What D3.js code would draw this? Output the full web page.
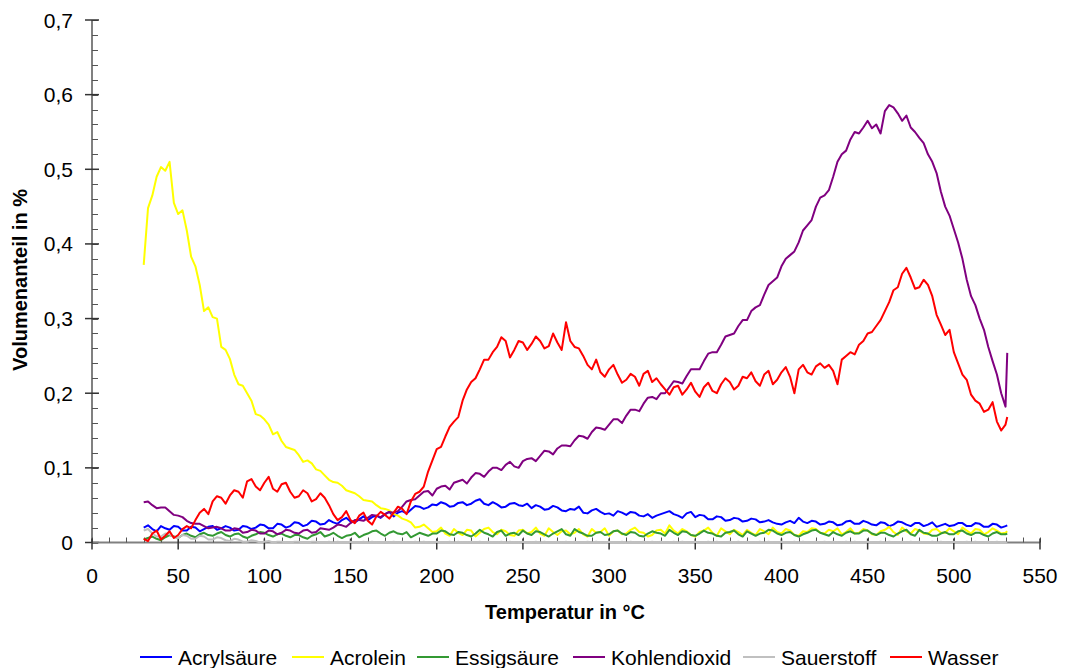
<!DOCTYPE html>
<html lang="de">
<head>
<meta charset="utf-8">
<title>Volumenanteil über Temperatur</title>
<script src="https://d3js.org/d3.v7.min.js"></script>
<style>
	body {
		margin: 0;
		background: #fff;
		font-family: 'Liberation Sans', Arial, sans-serif;
	}
	.ticklabel {
		font-size: 21px;
		fill: #000;
	}
	.axistitle {
		font-size: 20px;
		font-weight: bold;
		fill: #000;
	}
	.legendtext {
		font-size: 21px;
		fill: #000;
	}
</style>
</head>
<body>
<div id="chart"></div>
<script>

// Temperatur in °C (sampling grid of the curves)
var temps = [
  30, 32.5, 35, 37.5, 40, 42.5, 45, 47.5, 50, 52.5, 55, 57.5, 60, 62.5, 65, 67.5, 70, 72.5, 75, 77.5,
  80, 82.5, 85, 87.5, 90, 92.5, 95, 97.5, 100, 102.5, 105, 107.5, 110, 112.5, 115, 117.5, 120, 122.5, 125, 127.5,
  130, 132.5, 135, 137.5, 140, 142.5, 145, 147.5, 150, 152.5, 155, 157.5, 160, 162.5, 165, 167.5, 170, 172.5, 175, 177.5,
  180, 182.5, 185, 187.5, 190, 192.5, 195, 197.5, 200, 202.5, 205, 207.5, 210, 212.5, 215, 217.5, 220, 222.5, 225, 227.5,
  230, 232.5, 235, 237.5, 240, 242.5, 245, 247.5, 250, 252.5, 255, 257.5, 260, 262.5, 265, 267.5, 270, 272.5, 275, 277.5,
  280, 282.5, 285, 287.5, 290, 292.5, 295, 297.5, 300, 302.5, 305, 307.5, 310, 312.5, 315, 317.5, 320, 322.5, 325, 327.5,
  330, 332.5, 335, 337.5, 340, 342.5, 345, 347.5, 350, 352.5, 355, 357.5, 360, 362.5, 365, 367.5, 370, 372.5, 375, 377.5,
  380, 382.5, 385, 387.5, 390, 392.5, 395, 397.5, 400, 402.5, 405, 407.5, 410, 412.5, 415, 417.5, 420, 422.5, 425, 427.5,
  430, 432.5, 435, 437.5, 440, 442.5, 445, 447.5, 450, 452.5, 455, 457.5, 460, 462.5, 465, 467.5, 470, 472.5, 475, 477.5,
  480, 482.5, 485, 487.5, 490, 492.5, 495, 497.5, 500, 502.5, 505, 507.5, 510, 512.5, 515, 517.5, 520, 522.5, 525, 527.5,
  530, 531
];

var acrylsaeure = [
  0.02, 0.023, 0.018, 0.015, 0.022, 0.019, 0.017, 0.022, 0.021, 0.016, 0.016, 0.021, 0.02, 0.015, 0.018, 0.021, 0.022, 0.017, 0.019, 0.022,
  0.02, 0.016, 0.017, 0.022, 0.021, 0.018, 0.02, 0.024, 0.023, 0.019, 0.019, 0.025, 0.024, 0.02, 0.022, 0.027, 0.026, 0.022, 0.024, 0.029,
  0.028, 0.024, 0.025, 0.03, 0.027, 0.025, 0.03, 0.033, 0.028, 0.027, 0.031, 0.035, 0.03, 0.034, 0.036, 0.033, 0.038, 0.041, 0.035, 0.04,
  0.042, 0.039, 0.044, 0.049, 0.048, 0.045, 0.047, 0.051, 0.05, 0.054, 0.052, 0.048, 0.049, 0.053, 0.054, 0.05, 0.052, 0.056, 0.058, 0.052,
  0.05, 0.054, 0.051, 0.047, 0.048, 0.052, 0.053, 0.05, 0.049, 0.052, 0.046, 0.05, 0.048, 0.044, 0.045, 0.049, 0.047, 0.043, 0.042, 0.045,
  0.044, 0.048, 0.04, 0.039, 0.043, 0.045, 0.041, 0.038, 0.039, 0.036, 0.042, 0.04, 0.037, 0.041, 0.04, 0.036, 0.035, 0.038, 0.033, 0.036,
  0.038, 0.04, 0.042, 0.038, 0.036, 0.033, 0.039, 0.041, 0.034, 0.037, 0.036, 0.031, 0.031, 0.035, 0.034, 0.029, 0.03, 0.033, 0.032, 0.028,
  0.029, 0.032, 0.031, 0.027, 0.028, 0.03, 0.027, 0.025, 0.024, 0.027, 0.029, 0.026, 0.033, 0.028, 0.026, 0.029, 0.028, 0.024, 0.025, 0.028,
  0.027, 0.023, 0.024, 0.028, 0.029, 0.025, 0.025, 0.029, 0.027, 0.024, 0.023, 0.027, 0.026, 0.022, 0.024, 0.028, 0.027, 0.024, 0.022, 0.026,
  0.026, 0.022, 0.024, 0.027, 0.021, 0.023, 0.025, 0.022, 0.023, 0.026, 0.026, 0.022, 0.022, 0.026, 0.025, 0.021, 0.021, 0.025, 0.024, 0.02,
  0.022, 0.023
];

var acrolein = [
  0.372, 0.448, 0.465, 0.49, 0.503, 0.498, 0.51, 0.455, 0.44, 0.445, 0.418, 0.383, 0.37, 0.345, 0.31, 0.315, 0.302, 0.3, 0.262, 0.258,
  0.246, 0.225, 0.212, 0.21, 0.2, 0.19, 0.172, 0.17, 0.165, 0.158, 0.145, 0.148, 0.136, 0.128, 0.126, 0.124, 0.117, 0.108, 0.11, 0.106,
  0.098, 0.096, 0.09, 0.084, 0.081, 0.08, 0.076, 0.07, 0.068, 0.066, 0.062, 0.057, 0.056, 0.055, 0.05, 0.046, 0.045, 0.043, 0.038, 0.036,
  0.032, 0.03, 0.027, 0.02, 0.021, 0.024, 0.019, 0.014, 0.015, 0.02, 0.012, 0.009, 0.018, 0.013, 0.01, 0.017, 0.016, 0.008, 0.013, 0.018,
  0.02, 0.014, 0.011, 0.017, 0.015, 0.01, 0.009, 0.016, 0.017, 0.012, 0.014, 0.02, 0.012, 0.009, 0.019, 0.014, 0.01, 0.015, 0.016, 0.011,
  0.013, 0.018, 0.011, 0.008, 0.018, 0.013, 0.014, 0.019, 0.009, 0.015, 0.016, 0.011, 0.012, 0.017, 0.02, 0.014, 0.013, 0.008, 0.01, 0.016,
  0.017, 0.012, 0.023, 0.016, 0.012, 0.018, 0.015, 0.01, 0.008, 0.014, 0.016, 0.02, 0.013, 0.009, 0.019, 0.015, 0.011, 0.017, 0.014, 0.01,
  0.017, 0.013, 0.01, 0.018, 0.015, 0.011, 0.02, 0.014, 0.012, 0.018, 0.016, 0.01, 0.009, 0.015, 0.014, 0.019, 0.018, 0.013, 0.012, 0.017,
  0.015, 0.019, 0.011, 0.014, 0.019, 0.012, 0.013, 0.018, 0.016, 0.011, 0.01, 0.015, 0.017, 0.021, 0.014, 0.01, 0.02, 0.015, 0.012, 0.018,
  0.016, 0.012, 0.011, 0.017, 0.018, 0.013, 0.013, 0.019, 0.015, 0.011, 0.02, 0.016, 0.012, 0.018, 0.017, 0.011, 0.014, 0.019, 0.016, 0.012,
  0.013, 0.015
];

var essigsaeure = [
  0.004, 0.006, 0.008, 0.005, 0.003, 0.007, 0.01, 0.008, 0.006, 0.01, 0.012, 0.009, 0.007, 0.011, 0.013, 0.01, 0.009, 0.012, 0.014, 0.01,
  0.008, 0.011, 0.012, 0.008, 0.006, 0.009, 0.011, 0.014, 0.013, 0.01, 0.008, 0.011, 0.012, 0.009, 0.007, 0.01, 0.01, 0.007, 0.005, 0.009,
  0.011, 0.014, 0.008, 0.01, 0.013, 0.009, 0.006, 0.009, 0.01, 0.013, 0.007, 0.01, 0.012, 0.015, 0.016, 0.012, 0.009, 0.013, 0.015, 0.012,
  0.011, 0.014, 0.007, 0.01, 0.013, 0.011, 0.009, 0.012, 0.012, 0.016, 0.015, 0.011, 0.01, 0.014, 0.013, 0.01, 0.008, 0.012, 0.017, 0.013,
  0.011, 0.008, 0.014, 0.016, 0.009, 0.012, 0.013, 0.01, 0.016, 0.012, 0.01, 0.015, 0.014, 0.011, 0.008, 0.012, 0.015, 0.018, 0.011, 0.009,
  0.018, 0.014, 0.012, 0.009, 0.009, 0.013, 0.014, 0.01, 0.011, 0.015, 0.016, 0.012, 0.01, 0.014, 0.013, 0.009, 0.008, 0.012, 0.015, 0.013,
  0.012, 0.009, 0.017, 0.013, 0.01, 0.015, 0.014, 0.01, 0.009, 0.012, 0.016, 0.013, 0.012, 0.009, 0.008, 0.013, 0.014, 0.016, 0.011, 0.008,
  0.015, 0.012, 0.009, 0.012, 0.013, 0.017, 0.016, 0.012, 0.01, 0.013, 0.014, 0.01, 0.008, 0.011, 0.013, 0.016, 0.017, 0.013, 0.011, 0.009,
  0.014, 0.011, 0.009, 0.013, 0.015, 0.012, 0.012, 0.016, 0.016, 0.012, 0.01, 0.013, 0.013, 0.01, 0.008, 0.012, 0.015, 0.017, 0.011, 0.009,
  0.017, 0.013, 0.012, 0.009, 0.009, 0.012, 0.014, 0.011, 0.011, 0.015, 0.016, 0.012, 0.01, 0.013, 0.013, 0.01, 0.008, 0.012, 0.014, 0.011,
  0.011, 0.012
];

var kohlendioxid = [
  0.054, 0.055, 0.05, 0.046, 0.047, 0.047, 0.042, 0.037, 0.036, 0.034, 0.029, 0.026, 0.025, 0.025, 0.022, 0.019, 0.02, 0.021, 0.019, 0.016,
  0.016, 0.019, 0.018, 0.013, 0.014, 0.017, 0.016, 0.012, 0.012, 0.016, 0.015, 0.011, 0.013, 0.017, 0.016, 0.013, 0.012, 0.016, 0.017, 0.013,
  0.014, 0.019, 0.018, 0.017, 0.02, 0.024, 0.023, 0.021, 0.026, 0.03, 0.03, 0.029, 0.033, 0.037, 0.036, 0.034, 0.038, 0.041, 0.04, 0.042,
  0.048, 0.055, 0.057, 0.058, 0.063, 0.068, 0.069, 0.063, 0.072, 0.075, 0.076, 0.071, 0.08, 0.082, 0.084, 0.079, 0.087, 0.093, 0.092, 0.088,
  0.095, 0.1, 0.1, 0.097, 0.104, 0.108, 0.102, 0.1, 0.109, 0.112, 0.113, 0.109, 0.116, 0.123, 0.122, 0.118, 0.126, 0.13, 0.13, 0.129,
  0.137, 0.143, 0.142, 0.139, 0.148, 0.154, 0.153, 0.151, 0.158, 0.165, 0.165, 0.16, 0.17, 0.178, 0.178, 0.176, 0.186, 0.194, 0.195, 0.192,
  0.2, 0.2, 0.208, 0.216, 0.215, 0.213, 0.223, 0.232, 0.232, 0.232, 0.243, 0.253, 0.255, 0.255, 0.265, 0.276, 0.278, 0.28, 0.29, 0.298,
  0.298, 0.31, 0.315, 0.318, 0.332, 0.345, 0.35, 0.355, 0.37, 0.38, 0.385, 0.39, 0.402, 0.418, 0.425, 0.432, 0.45, 0.462, 0.465, 0.472,
  0.49, 0.51, 0.52, 0.525, 0.54, 0.55, 0.548, 0.556, 0.565, 0.555, 0.56, 0.548, 0.578, 0.586, 0.583, 0.575, 0.565, 0.572, 0.556, 0.55,
  0.542, 0.535, 0.52, 0.51, 0.495, 0.47, 0.45, 0.438, 0.42, 0.402, 0.38, 0.352, 0.33, 0.318, 0.3, 0.285, 0.262, 0.243, 0.225, 0.2,
  0.182, 0.254
];

var sauerstoff = [
  0.016, 0.018, 0.012, 0.008, 0.008, 0.012, 0.011, 0.007, 0.006, 0.01, 0.009, 0.005, 0.005, 0.009, 0.008, 0.004, 0.004, 0.007, 0.006, 0.003,
  0.002, 0.005, 0.004, 0.001, 0.001, 0.003, 0.002, 0, 0.001, 0.002, 0, 0.001, 0.001, 0, 0, 0.001, 0.001, 0, 0, 0.001,
  0.001, 0, 0, 0.001, 0, 0.001, 0, 0, 0.001, 0, 0, 0.001, 0, 0.001, 0, 0, 0.001, 0, 0.001, 0,
  0.001, 0, 0, 0.001, 0, 0.001, 0, 0, 0.001, 0, 0, 0.001, 0, 0.001, 0, 0, 0.001, 0, 0.001, 0,
  0.001, 0, 0, 0.001, 0, 0.001, 0, 0, 0.001, 0, 0, 0.001, 0, 0.001, 0, 0, 0.001, 0, 0.001, 0,
  0.001, 0, 0, 0.001, 0, 0.001, 0, 0, 0.001, 0, 0, 0.001, 0, 0.001, 0, 0, 0.001, 0, 0.001, 0,
  0.001, 0, 0, 0.001, 0, 0.001, 0, 0, 0.001, 0, 0, 0.001, 0, 0.001, 0, 0, 0.001, 0, 0.001, 0,
  0.001, 0, 0, 0.001, 0, 0.001, 0, 0, 0.001, 0, 0, 0.001, 0, 0.001, 0, 0, 0.001, 0, 0.001, 0,
  0.001, 0, 0, 0.001, 0, 0.001, 0, 0, 0.001, 0, 0, 0.001, 0, 0.001, 0, 0, 0.001, 0, 0.001, 0,
  0.001, 0, 0, 0.001, 0, 0.001, 0, 0, 0.001, 0, 0, 0.001, 0, 0.001, 0, 0, 0.001, 0, 0.001, 0,
  0, 0
];

var wasser = [
  0.005, 0.002, 0.012, 0.016, 0.004, 0.009, 0.015, 0.006, 0.01, 0.018, 0.022, 0.019, 0.03, 0.04, 0.045, 0.038, 0.055, 0.062, 0.06, 0.052,
  0.063, 0.07, 0.068, 0.06, 0.082, 0.085, 0.075, 0.07, 0.08, 0.088, 0.072, 0.068, 0.078, 0.08, 0.068, 0.06, 0.062, 0.07, 0.066, 0.055,
  0.058, 0.066, 0.06, 0.05, 0.038, 0.03, 0.034, 0.042, 0.03, 0.026, 0.036, 0.04, 0.029, 0.024, 0.035, 0.041, 0.037, 0.032, 0.04, 0.048,
  0.045, 0.038, 0.055, 0.065, 0.068, 0.075, 0.095, 0.11, 0.125, 0.128, 0.142, 0.155, 0.162, 0.168, 0.19, 0.205, 0.215, 0.22, 0.232, 0.245,
  0.245, 0.255, 0.262, 0.275, 0.27, 0.248, 0.258, 0.27, 0.268, 0.258, 0.266, 0.276, 0.27, 0.26, 0.263, 0.28, 0.268, 0.258, 0.295, 0.27,
  0.262, 0.26, 0.25, 0.238, 0.232, 0.245, 0.228, 0.222, 0.232, 0.238, 0.225, 0.214, 0.218, 0.226, 0.222, 0.21, 0.226, 0.23, 0.215, 0.22,
  0.212, 0.205, 0.198, 0.208, 0.21, 0.198, 0.205, 0.214, 0.202, 0.195, 0.208, 0.214, 0.203, 0.2, 0.212, 0.22, 0.215, 0.205, 0.21, 0.222,
  0.22, 0.228, 0.216, 0.21, 0.225, 0.23, 0.212, 0.218, 0.228, 0.235, 0.222, 0.2, 0.232, 0.238, 0.228, 0.225, 0.236, 0.24, 0.234, 0.238,
  0.23, 0.212, 0.245, 0.25, 0.255, 0.252, 0.265, 0.27, 0.28, 0.282, 0.29, 0.298, 0.31, 0.322, 0.338, 0.342, 0.36, 0.368, 0.355, 0.34,
  0.342, 0.352, 0.345, 0.33, 0.305, 0.292, 0.278, 0.285, 0.255, 0.24, 0.225, 0.218, 0.198, 0.19, 0.186, 0.175, 0.178, 0.188, 0.162, 0.15,
  0.158, 0.168
];

var seriesNames = ["Acrylsäure", "Acrolein", "Essigsäure", "Kohlendioxid", "Sauerstoff", "Wasser"];
var seriesValues = [acrylsaeure, acrolein, essigsaeure, kohlendioxid, sauerstoff, wasser];
var seriesColours = ["#0000ff", "#ffff00", "#339933", "#800080", "#c0c0c0", "#ff0000"];

var xTicks = [0, 50, 100, 150, 200, 250, 300, 350, 400, 450, 500, 550];
var yTicks = [0, 0.1, 0.2, 0.3, 0.4, 0.5, 0.6, 0.7];

// layout
var width = 1066, height = 668;
var plot = {left: 92, right: 1040, top: 20, bottom: 542.5};

var svg = d3.select("#chart")
  .append("svg")
    .attr("width", width)
    .attr("height", height);

var x = d3.scaleLinear()
  .domain([0, 550])
  .range([plot.left, plot.right]);

var y = d3.scaleLinear()
  .domain([0, 0.7])
  .range([plot.bottom, plot.top]);

// German number format: comma as decimal sign
var de = d3.formatLocale({decimal: ",", thousands: ".", grouping: [3], currency: ["", " €"]});
var fmt = de.format(".1~f");

// Y axis
var yAxis = svg.append("g").attr("class", "yaxis");
yAxis.append("line")
  .attr("x1", plot.left).attr("x2", plot.left)
  .attr("y1", y(0)).attr("y2", y(0.7))
  .attr("stroke", "#808080").attr("stroke-width", 2);

yAxis.selectAll(".minor")
  .data(d3.range(0, 36).map(function(i) { return i * 0.02; }))
  .enter().append("line")
    .attr("class", "minor")
    .attr("x1", plot.left).attr("x2", plot.left + 6)
    .attr("y1", function(d) { return Math.round(y(d)) + 0.5; })
    .attr("y2", function(d) { return Math.round(y(d)) + 0.5; })
    .attr("stroke", "#555").attr("stroke-width", 1);

yAxis.selectAll(".major")
  .data(yTicks)
  .enter().append("line")
    .attr("class", "major")
    .attr("x1", plot.left - 7).attr("x2", plot.left + 7)
    .attr("y1", function(d) { return y(d); })
    .attr("y2", function(d) { return y(d); })
    .attr("stroke", "#333").attr("stroke-width", 1.5);

yAxis.selectAll(".ticklabel")
  .data(yTicks)
  .enter().append("text")
    .attr("class", "ticklabel")
    .attr("x", plot.left - 19)
    .attr("y", function(d) { return y(d); })
    .attr("dy", "0.36em")
    .attr("text-anchor", "end")
    .text(function(d) { return fmt(d); });

// X axis
var xAxis = svg.append("g").attr("class", "xaxis");
xAxis.append("line")
  .attr("x1", x(0)).attr("x2", x(550))
  .attr("y1", plot.bottom).attr("y2", plot.bottom)
  .attr("stroke", "#808080").attr("stroke-width", 2);

xAxis.selectAll(".minor")
  .data(d3.range(0, 56).map(function(i) { return i * 10; }))
  .enter().append("line")
    .attr("class", "minor")
    .attr("x1", function(d) { return Math.round(x(d)) + 0.5; })
    .attr("x2", function(d) { return Math.round(x(d)) + 0.5; })
    .attr("y1", plot.bottom - 5).attr("y2", plot.bottom)
    .attr("stroke", "#555").attr("stroke-width", 1);

xAxis.selectAll(".major")
  .data(xTicks)
  .enter().append("line")
    .attr("class", "major")
    .attr("x1", function(d) { return x(d); })
    .attr("x2", function(d) { return x(d); })
    .attr("y1", plot.bottom - 4).attr("y2", plot.bottom + 7)
    .attr("stroke", "#333").attr("stroke-width", 1.5);

xAxis.selectAll(".ticklabel")
  .data(xTicks)
  .enter().append("text")
    .attr("class", "ticklabel")
    .attr("x", function(d) { return x(d); })
    .attr("y", 583)
    .attr("text-anchor", "middle")
    .text(function(d) { return fmt(d); });

// axis titles
svg.append("text")
  .attr("class", "axistitle")
  .attr("x", 565)
  .attr("y", 619)
  .attr("text-anchor", "middle")
  .text("Temperatur in °C");

svg.append("text")
  .attr("class", "axistitle")
  .attr("transform", "translate(27,280) rotate(-90)")
  .attr("text-anchor", "middle")
  .text("Volumenanteil in %");

// the curves
var line = d3.line()
  .x(function(d, i) { return x(temps[i]); })
  .y(function(d) { return y(d); });

svg.append("g")
  .selectAll("path")
  .data(seriesValues)
  .enter().append("path")
    .attr("d", line)
    .attr("fill", "none")
    .attr("stroke", function(d, i) { return seriesColours[i]; })
    .attr("stroke-width", 2)
    .attr("stroke-linejoin", "round");

// legend
var legendX = [140, 292, 417, 573, 743, 890];
var legend = svg.append("g").attr("class", "legend");
var item = legend.selectAll("g")
  .data(seriesNames)
  .enter().append("g")
    .attr("transform", function(d, i) { return "translate(" + legendX[i] + ",657)"; });

item.append("line")
  .attr("x1", 0).attr("x2", 32)
  .attr("y1", 0).attr("y2", 0)
  .attr("stroke", function(d, i) { return seriesColours[i]; })
  .attr("stroke-width", 2);

item.append("text")
  .attr("class", "legendtext")
  .attr("x", 38)
  .attr("y", 8)
  .text(function(d) { return d; });

</script>
</body>
</html>
